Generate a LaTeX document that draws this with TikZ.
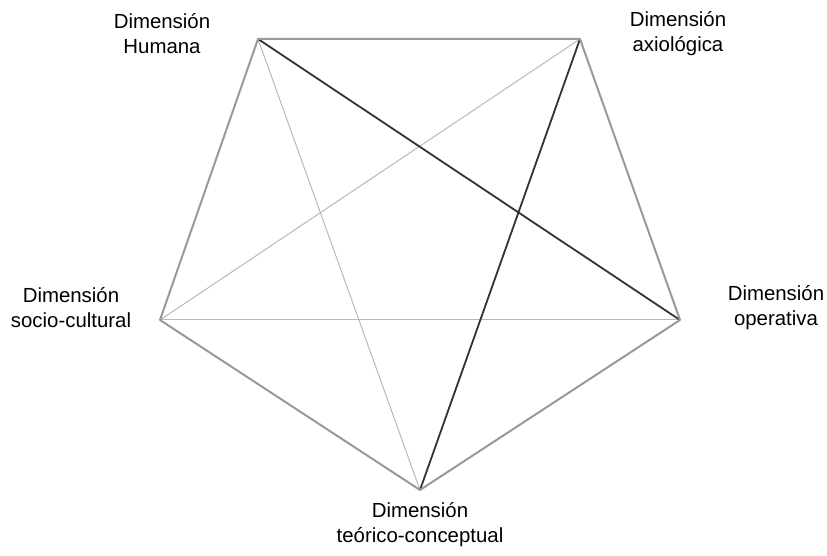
\documentclass[tikz,border=0pt]{standalone}
\usepackage{fontspec}
\setmainfont{Liberation Sans}
\tikzset{
    edge/.style={draw=black!40, line width=1pt},
    thin diag/.style={draw=black!28, line width=0.5pt},
    dark diag/.style={draw=black!80, line width=0.9pt},
    dim/.style={align=center, font=\fontsize{10.2}{12.5}\selectfont}
}
\begin{document}
\begin{tikzpicture}[x=0.5pt, y=-0.5pt]
        \useasboundingbox (0,0) rectangle (827,556);
        % vertices
        \coordinate (hum) at (258, 39);
        \coordinate (axi) at (580, 39);
        \coordinate (ope) at (680, 320);
        \coordinate (teo) at (420, 490);
        \coordinate (soc) at (160, 320);
        % labels
        \node[dim] (lhum) at (162, 34) {Dimensión\\Humana};
        \node[dim] (laxi) at (678, 34) {Dimensión\\axiológica};
        \node[dim] (lope) at (776, 308) {Dimensión\\operativa};
        \node[dim] (lteo) at (420, 525) {Dimensión\\teórico-conceptual};
        \node[dim] (lsoc) at (71, 308) {Dimensión\\socio-cultural};
        % diagonals
        \draw[thin diag] (hum) -- (teo);
        \draw[thin diag] (axi) -- (soc);
        \draw[thin diag] (soc) -- (ope);
        \draw[dark diag] (hum) -- (ope);
        \draw[dark diag] (axi) -- (teo);
        % pentagon
        \draw[edge, line join=round] (hum) -- (axi) -- (ope) -- (teo) -- (soc) -- cycle;
    \end{tikzpicture}
\end{document}
